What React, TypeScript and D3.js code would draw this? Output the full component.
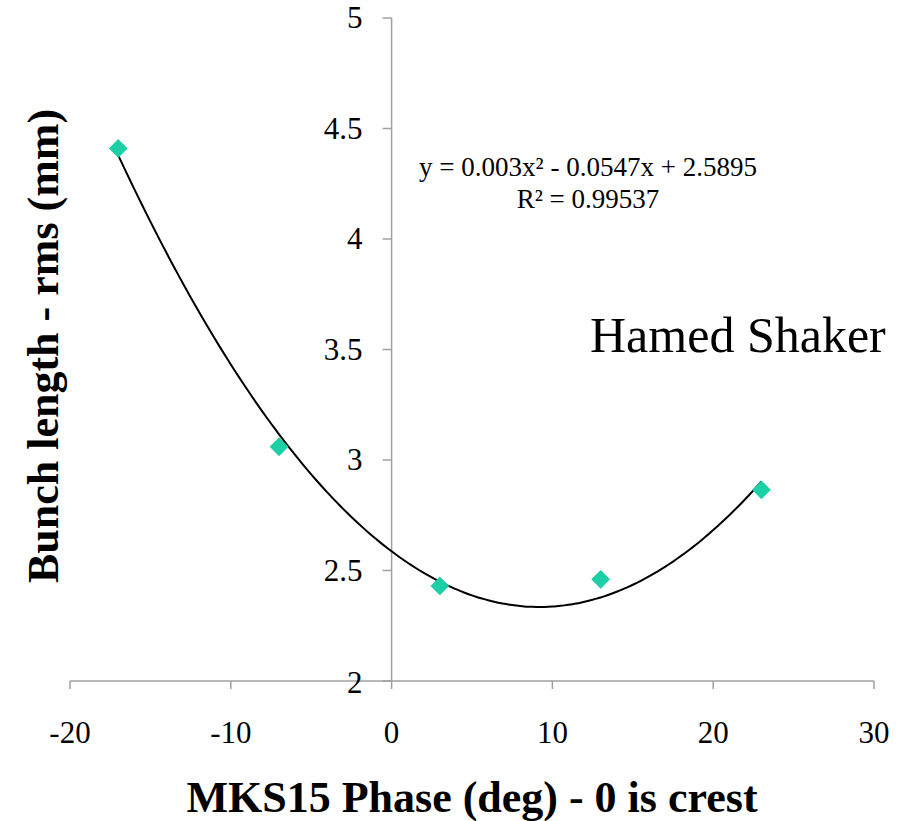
import React from 'react';
import * as d3 from 'd3';

const phases = [-17, -7, 3, 13, 23];
const bunchLengths = [4.41, 3.06, 2.43, 2.46, 2.865];
const xTicks = [-20, -10, 0, 10, 20, 30];
const yTicks = [2, 2.5, 3, 3.5, 4, 4.5, 5];
const equationText = 'y = 0.003x² - 0.0547x + 2.5895';
const r2Text = 'R² = 0.99537';

const W = 906;
const H = 821;
const serif = '"Liberation Serif", "Times New Roman", serif';

// least squares quadratic through the points (polynomial trendline)
function quadFit(xs: number[], ys: number[]) {
  const s = [0, 0, 0, 0, 0], t = [0, 0, 0];
  xs.forEach((xv, i) => {
    for (let k = 0; k < 5; k++) s[k] += Math.pow(xv, k);
    for (let k = 0; k < 3; k++) t[k] += Math.pow(xv, k) * ys[i];
  });
  // solve 3x3 normal equations for [a0, a1, a2]
  const m = [
    [s[0], s[1], s[2], t[0]],
    [s[1], s[2], s[3], t[1]],
    [s[2], s[3], s[4], t[2]],
  ];
  for (let c = 0; c < 3; c++) {
    for (let r = c + 1; r < 3; r++) {
      const f = m[r][c] / m[c][c];
      for (let k = c; k < 4; k++) m[r][k] -= f * m[c][k];
    }
  }
  const a = [0, 0, 0];
  for (let r = 2; r >= 0; r--) {
    let v = m[r][3];
    for (let k = r + 1; k < 3; k++) v -= m[r][k] * a[k];
    a[r] = v / m[r][r];
  }
  return (v: number) => a[0] + a[1] * v + a[2] * v * v;
}

export default function App() {
  const x = d3.scaleLinear().domain([-20, 30]).range([70, 874]);
  const y = d3.scaleLinear().domain([2, 5]).range([681, 18]);

  const fit = quadFit(phases, bunchLengths);
  const fitX = d3.range(phases[0], phases[phases.length - 1] + 0.01, 0.25);
  const line = d3.line<number>()
    .x(d => x(d))
    .y(d => y(fit(d)))
    .curve(d3.curveMonotoneX);

  const diamond = d3.symbol().type(d3.symbolDiamond2).size(225)();

  return (
    <svg width={W} height={H} style={{position: 'absolute', left: 0, top: 0}}>
      <rect width={W} height={H} fill="#fff" />
      {/* x axis */}
      <line x1={x(-20)} x2={x(30)} y1={y(2)} y2={y(2)} stroke="#a0a0a0" strokeWidth={1.5} />
      {xTicks.map(t => (
        <g key={'x' + t}>
          <line x1={x(t)} x2={x(t)} y1={y(2)} y2={y(2) + 8} stroke="#a0a0a0" strokeWidth={1.5} />
          <text x={x(t)} y={743} textAnchor="middle" fontFamily={serif} fontSize={31}>{t}</text>
        </g>
      ))}
      {/* y axis at x=0 */}
      <line x1={x(0)} x2={x(0)} y1={y(2)} y2={y(5)} stroke="#a0a0a0" strokeWidth={1.5} />
      {yTicks.map(t => (
        <g key={'y' + t}>
          <line x1={x(0) - 9} x2={x(0)} y1={y(t)} y2={y(t)} stroke="#a0a0a0" strokeWidth={1.5} />
          <text x={x(0) - 29} y={y(t) + 10 + (t === 2 ? 2 : 0)} textAnchor="end" fontFamily={serif} fontSize={31}>{t}</text>
        </g>
      ))}
      {/* trend line */}
      <path d={line(fitX) || ''} fill="none" stroke="#000" strokeWidth={2} />
      {/* points */}
      {phases.map((p, i) => (
        <path key={'p' + i} d={diamond || ''} transform={`translate(${x(p)},${y(bunchLengths[i])})`} fill="#1dcfa6" />
      ))}
      <text x={588} y={176} textAnchor="middle" fontFamily={serif} fontSize={27}>{equationText}</text>
      <text x={588} y={208} textAnchor="middle" fontFamily={serif} fontSize={27}>{r2Text}</text>
      <text x={590} y={352} fontFamily={serif} fontSize={50}>Hamed Shaker</text>
      <text x={472} y={812} textAnchor="middle" fontFamily={serif} fontSize={44} fontWeight="bold">MKS15 Phase (deg) - 0 is crest</text>
      <text transform="translate(58,346) rotate(-90)" textAnchor="middle" fontFamily={serif} fontSize={44} fontWeight="bold">Bunch length - rms (mm)</text>
    </svg>
  );
}
